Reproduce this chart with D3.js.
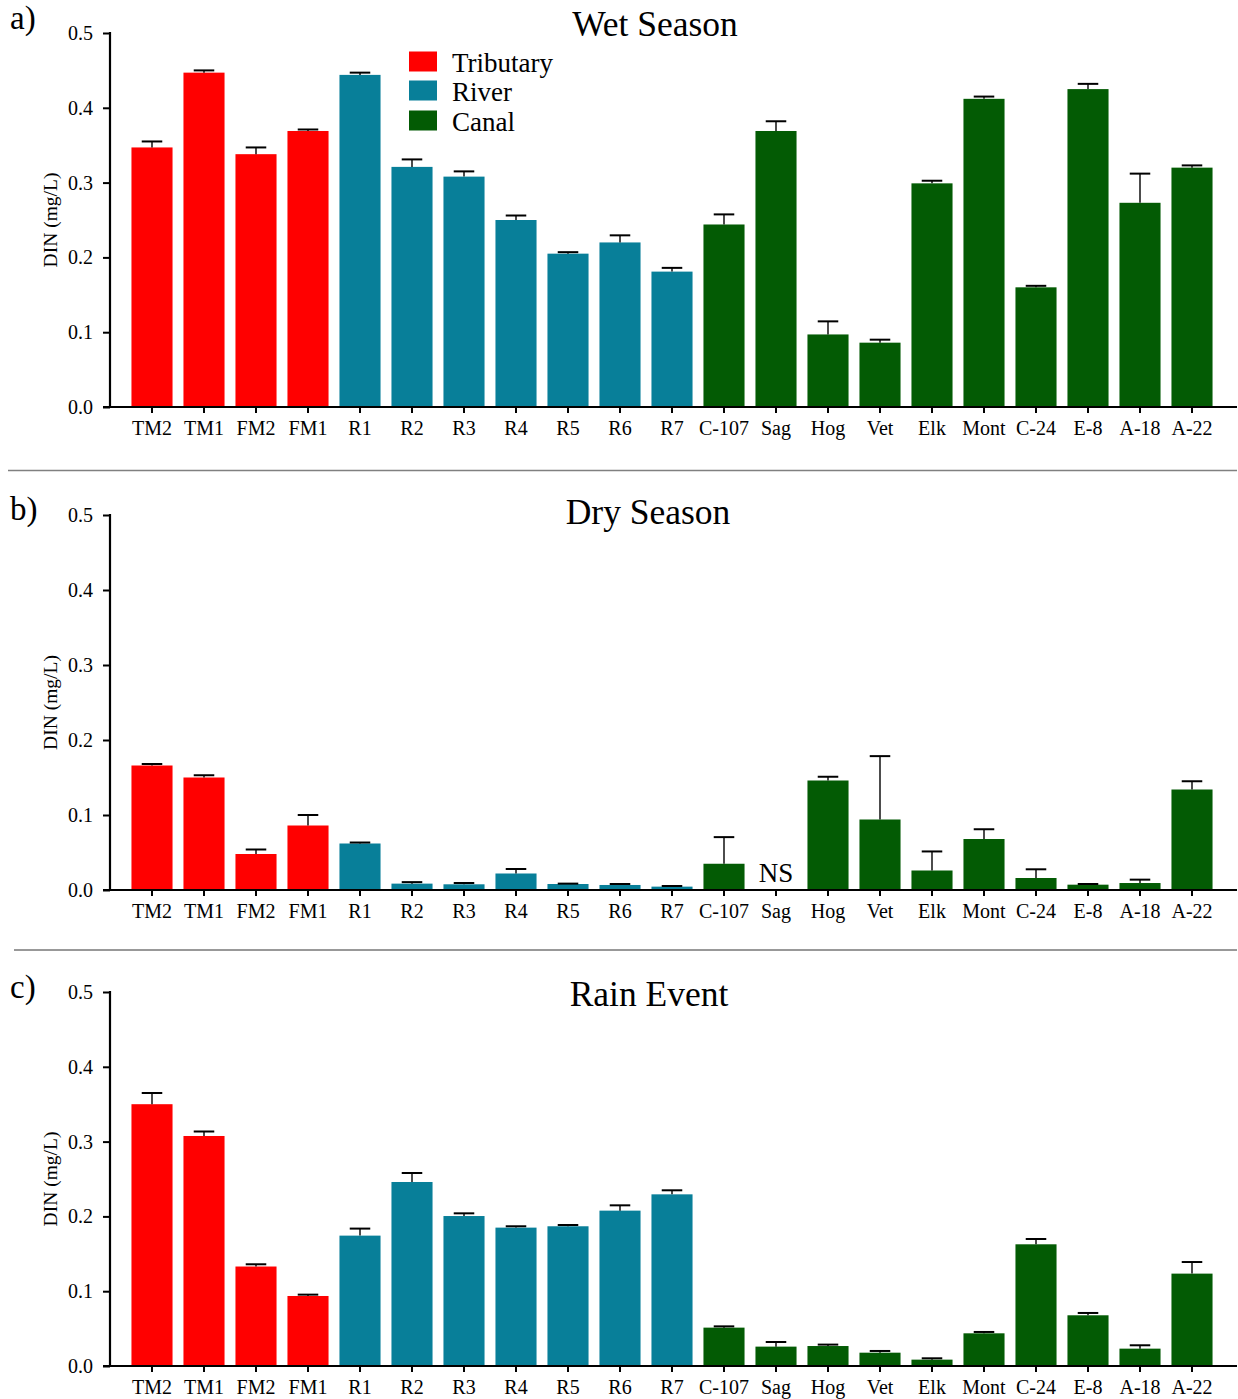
<!DOCTYPE html>
<html>
<head>
<meta charset="utf-8">
<script src="https://cdn.jsdelivr.net/npm/d3@7"></script>
<style>
  html, body { margin: 0; padding: 0; background: #fff; }
  svg { display: block; font-family: "Liberation Serif", "Times New Roman", Times, serif; }
</style>
</head>
<body>
<svg id="chart" width="1238" height="1399"></svg>
<script>
// Sampling sites, in plotting order
const sites = ["TM2","TM1","FM2","FM1","R1","R2","R3","R4","R5","R6","R7",
               "C-107","Sag","Hog","Vet","Elk","Mont","C-24","E-8","A-18","A-22"];
const siteTypes = ["Tributary","Tributary","Tributary","Tributary",
                   "River","River","River","River","River","River","River",
                   "Canal","Canal","Canal","Canal","Canal","Canal","Canal","Canal","Canal","Canal"];
const typeNames = ["Tributary","River","Canal"];
const yTicks = [0, 0.1, 0.2, 0.3, 0.4, 0.5];

// DIN (mg/L) mean and standard error per site
const wetMean = [0.347,0.447,0.338,0.369,0.444,0.321,0.308,0.250,0.205,0.220,0.181,
                 0.244,0.369,0.097,0.086,0.299,0.412,0.160,0.425,0.273,0.320];
const wetSE   = [0.008,0.003,0.009,0.002,0.003,0.010,0.007,0.006,0.002,0.0095,0.005,
                 0.0135,0.013,0.0175,0.004,0.0035,0.003,0.002,0.007,0.039,0.003];

const dryMean = [0.166,0.150,0.048,0.086,0.062,0.0085,0.0076,0.022,0.008,0.0067,0.0045,
                 0.035,null,0.146,0.094,0.026,0.068,0.016,0.0071,0.0093,0.134];
const drySE   = [0.002,0.003,0.006,0.014,0.0013,0.002,0.0017,0.006,0.0005,0.0013,0.0008,
                 0.0355,null,0.005,0.0845,0.0254,0.013,0.0116,0.0009,0.0045,0.011];

const rainMean = [0.350,0.3075,0.133,0.0936,0.1743,0.246,0.2005,0.185,0.1868,0.2077,0.2295,
                  0.0513,0.0259,0.0267,0.0178,0.0085,0.0437,0.1627,0.0678,0.0232,0.1235];
const rainSE   = [0.015,0.006,0.003,0.0018,0.0094,0.012,0.0036,0.0018,0.0017,0.0071,0.0054,
                   0.0017,0.0062,0.0019,0.0023,0.0018,0.0018,0.0071,0.0031,0.0045,0.0155];

const panelTitles = ["Wet Season", "Dry Season", "Rain Event"];
const panelTags = ["a)", "b)", "c)"];
const panelMeans = [wetMean, dryMean, rainMean];
const panelSEs = [wetSE, drySE, rainSE];
const notSampledLabel = "NS";

// Layout
const colors = { Tributary: "#ff0000", River: "#087f99", Canal: "#035b04" };
const layout = [
  { top: 33,  base: 407,  titleX: 655, titleY: 36,   tagY: 29 },
  { top: 515, base: 890,  titleX: 648, titleY: 524,  tagY: 520 },
  { top: 992, base: 1366, titleX: 649, titleY: 1006, tagY: 998 }
];
const axisX = 110, axisRight = 1237;

const svg = d3.select("#chart");

const x = d3.scaleBand()
  .domain(sites)
  .range([126, 1218])
  .paddingInner(0.21)
  .paddingOuter(0.105);

panelTitles.forEach((title, p) => {
  const L = layout[p];
  const means = panelMeans[p], ses = panelSEs[p];
  const rows = sites.map((s, i) => ({ site: s, type: siteTypes[i], mean: means[i], se: ses[i] }));

  const y = d3.scaleLinear().domain([0, 0.5]).range([L.base, L.top]);
  const g = svg.append("g");

  // bars
  g.selectAll("rect.bar")
    .data(rows.filter(d => d.mean != null))
    .join("rect")
    .attr("class", "bar")
    .attr("x", d => x(d.site))
    .attr("width", x.bandwidth())
    .attr("y", d => y(d.mean))
    .attr("height", d => y(0) - y(d.mean))
    .attr("fill", d => colors[d.type]);

  // error bars (upper only)
  const capHalf = x.bandwidth() / 4;
  const eb = g.selectAll("g.err")
    .data(rows.filter(d => d.mean != null && d.se != null))
    .join("g")
    .attr("class", "err");
  eb.append("line")
    .attr("x1", d => x(d.site) + x.bandwidth() / 2)
    .attr("x2", d => x(d.site) + x.bandwidth() / 2)
    .attr("y1", d => y(d.mean))
    .attr("y2", d => y(d.mean + d.se))
    .attr("stroke", "#000").attr("stroke-width", 1.4);
  eb.append("line")
    .attr("x1", d => x(d.site) + x.bandwidth() / 2 - capHalf)
    .attr("x2", d => x(d.site) + x.bandwidth() / 2 + capHalf)
    .attr("y1", d => y(d.mean + d.se))
    .attr("y2", d => y(d.mean + d.se))
    .attr("stroke", "#000").attr("stroke-width", 2);

  // "not sampled" marker
  g.selectAll("text.ns")
    .data(rows.filter(d => d.mean == null))
    .join("text")
    .attr("class", "ns")
    .attr("x", d => x(d.site) + x.bandwidth() / 2)
    .attr("y", y(0) - 8)
    .attr("text-anchor", "middle")
    .attr("font-size", 27)
    .attr("fill", "#000")
    .text(notSampledLabel);

  // y axis
  const yAxis = g.append("g")
    .attr("transform", `translate(${axisX},0)`)
    .call(d3.axisLeft(y).tickValues(yTicks).tickFormat(d3.format(".1f"))
      .tickSize(7).tickSizeOuter(0).tickPadding(10))
    .attr("font-family", null)
    .attr("font-size", 20);
  yAxis.select(".domain").remove();
  yAxis.selectAll(".tick line").attr("stroke", "#000").attr("stroke-width", 2);
  yAxis.selectAll(".tick text").attr("fill", "#000");

  // x axis
  const xAxis = g.append("g")
    .attr("transform", `translate(0,${L.base})`)
    .call(d3.axisBottom(x).tickSize(6).tickSizeOuter(0).tickPadding(8))
    .attr("font-family", null)
    .attr("font-size", 20);
  xAxis.select(".domain").remove();
  xAxis.selectAll(".tick line").attr("stroke", "#000").attr("stroke-width", 2);
  xAxis.selectAll(".tick text").attr("fill", "#000");

  // axis lines
  g.append("line")
    .attr("x1", axisX).attr("x2", axisX)
    .attr("y1", L.top - 1).attr("y2", L.base + 1)
    .attr("stroke", "#000").attr("stroke-width", 2.2);
  g.append("line")
    .attr("x1", axisX - 7).attr("x2", axisRight)
    .attr("y1", L.base).attr("y2", L.base)
    .attr("stroke", "#000").attr("stroke-width", 2.2);

  // y label
  g.append("text")
    .attr("transform", `translate(57,${(L.top + L.base) / 2}) rotate(-90)`)
    .attr("text-anchor", "middle")
    .attr("font-size", 19.5)
    .text("DIN (mg/L)");

  // title
  g.append("text")
    .attr("x", L.titleX).attr("y", L.titleY)
    .attr("text-anchor", "middle")
    .attr("font-size", 35.5)
    .text(title);

  // panel tag
  g.append("text")
    .attr("x", 10).attr("y", L.tagY)
    .attr("font-size", 33)
    .text(panelTags[p]);

  // legend (first panel only)
  if (p === 0) {
    const lg = g.append("g").attr("transform", "translate(409,0)");
    const rowY = [71.5, 100.5, 130.5];
    typeNames.forEach((t, i) => {
      lg.append("rect")
        .attr("x", 0).attr("y", rowY[i] - 20)
        .attr("width", 28).attr("height", 20)
        .attr("fill", colors[t]);
      lg.append("text")
        .attr("x", 43).attr("y", rowY[i])
        .attr("font-size", 27)
        .text(t);
    });
  }
});

// panel separators
svg.append("line")
  .attr("x1", 8).attr("x2", 1237).attr("y1", 470.5).attr("y2", 470.5)
  .attr("stroke", "#808080").attr("stroke-width", 1.6);
svg.append("line")
  .attr("x1", 14).attr("x2", 1237).attr("y1", 950).attr("y2", 950)
  .attr("stroke", "#333").attr("stroke-width", 1);
</script>
</body>
</html>
